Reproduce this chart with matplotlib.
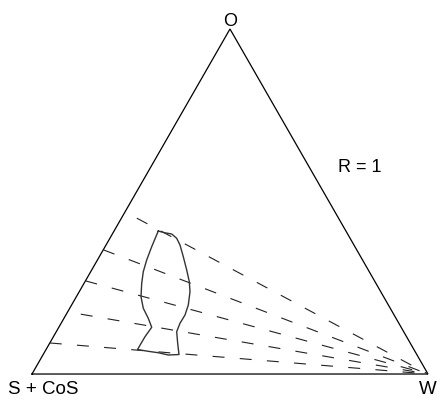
import numpy as np
import matplotlib
matplotlib.use("Agg")
import matplotlib.pyplot as plt
from matplotlib import font_manager

plt.rcParams["font.family"] = ["Liberation Sans", "DejaVu Sans"]
plt.rcParams["lines.scale_dashes"] = False

# Vertex labels of the ternary diagram
vertex_labels = ["S + CoS", "W", "O"]
ratio_label = "R = 1"

# Tie lines: left-edge end points (oil fraction, water fraction 0), all running to the W corner
tie_o = [0.47, 0.36, 0.27, 0.18, 0.09]

# Boundary of the two-phase region (oil fraction, water fraction), closed contour
bound_o = [0.4145, 0.4096, 0.4058, 0.3933, 0.3739, 0.3400, 0.3014, 0.2675, 0.2386,
           0.2000, 0.1710, 0.1470, 0.1226, 0.0890, 0.0565, 0.0551, 0.0617, 0.0658,
           0.0710, 0.1081, 0.1354, 0.1614, 0.1904, 0.2241, 0.2629, 0.2965, 0.3304,
           0.3690]
bound_w = [0.1117, 0.1293, 0.1499, 0.1688, 0.1868, 0.2121, 0.2400, 0.2635, 0.2797,
           0.2947, 0.3009, 0.3002, 0.3041, 0.3234, 0.3430, 0.3167, 0.2881, 0.2608,
           0.2309, 0.2313, 0.2346, 0.2130, 0.1859, 0.1632, 0.1456, 0.1328, 0.1244,
           0.1178]

H = np.sqrt(3) / 2


def to_xy(o, w):
    o = np.asarray(o, dtype=float)
    w = np.asarray(w, dtype=float)
    return w + o / 2, o * H


# Condensed face for the base labels when available
installed = {f.name for f in font_manager.fontManager.ttflist}
if "Liberation Sans Narrow" in installed:
    base_font = dict(family=["Liberation Sans Narrow", "DejaVu Sans"], fontsize=16)
else:
    base_font = dict(family=["Liberation Sans", "DejaVu Sans"], fontsize=13.5)

fig = plt.figure(figsize=(4.38, 3.98), dpi=100)
ax = fig.add_axes([0, 0, 1, 1])
ax.set_xlim(-0.0808, 1.0253)
ax.set_ylim(-0.0602, 0.9388)
ax.axis("off")

# Triangle frame: S+CoS (0,0), W (1,0), O apex
tx, ty = to_xy([0, 0, 1, 0], [0, 1, 0, 0])
ax.plot(tx, ty, color="black", lw=0.9, solid_joinstyle="miter")

# Dashed tie lines converging on W
phases = [10, 0, 0, 10, 0]
for o, ph in zip(tie_o, phases):
    lx, ly = to_xy([o, 0], [0, 1])
    ax.plot(lx, ly, color="#222222", lw=0.8, linestyle=(ph, (8.6, 11.0)))

# Two-phase boundary
bx, by = to_xy(bound_o + bound_o[:1], bound_w + bound_w[:1])
ax.plot(bx, by, color="#333333", lw=1.0)

# Labels
ax.annotate(vertex_labels[2], xy=to_xy(1, 0), xytext=(0, 2.2), textcoords="offset points",
            ha="center", va="baseline", fontsize=13)
ax.annotate(vertex_labels[0], xy=to_xy(0, 0), xytext=(8.3, -14.2), textcoords="offset points",
            ha="center", va="baseline", **base_font)
ax.annotate(vertex_labels[1], xy=to_xy(0, 1), xytext=(0, -14.2), textcoords="offset points",
            ha="center", va="baseline", **base_font)
fig.text(338 / 438, 1 - 172 / 398, ratio_label, ha="left", va="baseline", fontsize=13)

fig.savefig("out.png", dpi=100)
